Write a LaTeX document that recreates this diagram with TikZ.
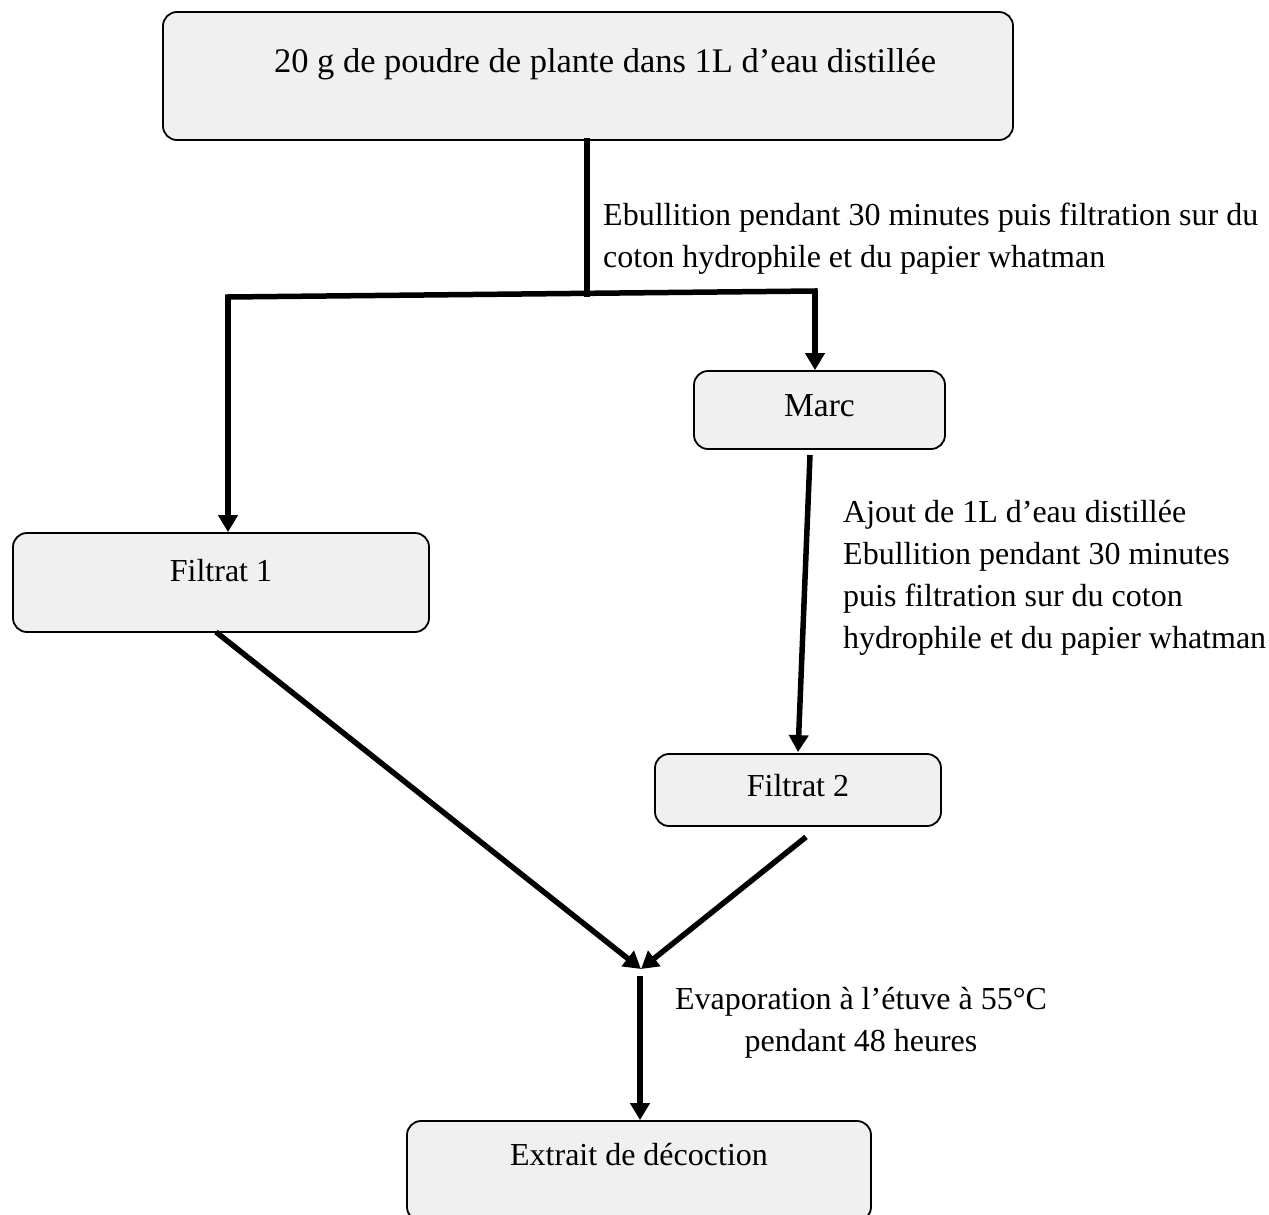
\documentclass[tikz,border=0pt]{standalone}
\usepackage{fontspec}
\setmainfont{Liberation Serif}
\usetikzlibrary{arrows.meta,calc}
\begin{document}
\begin{tikzpicture}[x=1pt,y=-1pt,
  font=\fontsize{32}{42}\selectfont,
  box/.style={draw=black,line width=1.8pt,fill=black!6,rounded corners=14pt,inner sep=0pt},
  conn/.style={line width=5.5pt,line cap=rect},
  arr/.style={line width=5.5pt,-{Triangle[width=19pt,length=17pt]}},
  lbl/.style={inner sep=0pt,align=left}]
\useasboundingbox (0,0) rectangle (1269,1215);
% boxes
\node[box,minimum width=850pt,minimum height=128pt,
  label={[yshift=12pt,xshift=17pt,font=\fontsize{34.5}{42}\selectfont]center:20 g de poudre de plante dans 1L d’eau distillée}] (top) at (588,76) {};
\node[box,minimum width=251pt,minimum height=78pt,
  label={[yshift=4pt,font=\fontsize{33.5}{42}\selectfont]center:Marc}] (marc) at (819.5,410) {};
\node[box,minimum width=416pt,minimum height=99pt,
  label={[yshift=12pt]center:Filtrat 1}] (f1) at (221,582.5) {};
\node[box,minimum width=286pt,minimum height=72pt,
  label={[yshift=4pt]center:Filtrat 2}] (f2) at (798,790) {};
\node[box,minimum width=464pt,minimum height=100pt,
  label={[yshift=16pt]center:Extrait de décoction}] (ext) at (639,1171) {};
% junctions
\coordinate (j1) at (587,294);
\coordinate (jl) at (228,297);
\coordinate (jr) at (815,291);
\coordinate (m) at (641,969);
\coordinate (ms) at (810,455);
\coordinate (f1s) at (216,632);
\coordinate (f2s) at (806,837);
\coordinate (ev) at (640,976);
% connectors
\draw[conn] (top.south -| j1) -- (j1);
\draw[conn] (jl) -- (jr);
\draw[arr] (jl) -- (jl |- f1.north);
\draw[arr] (jr) -- (jr |- marc.north);
\draw[arr] (ms) -- ($(f2.north)+(0,-1)$);
\draw[arr] (f1s) -- (m);
\draw[arr] (f2s) -- (m);
\draw[arr] (ev) -- (ev |- ext.north);
% labels
\node[lbl,anchor=north west] (l1) at (603,203) {Ebullition pendant 30 minutes puis filtration sur du\\coton hydrophile et du papier whatman};
\node[lbl,anchor=north west] (l2) at (843,500) {Ajout de 1L d’eau distillée\\Ebullition pendant 30 minutes\\puis filtration sur du coton\\hydrophile et du papier whatman};
\node[lbl,align=center,anchor=north] (l3) at (861,987) {Evaporation à l’étuve à 55°C\\pendant 48 heures};
\end{tikzpicture}
\end{document}
